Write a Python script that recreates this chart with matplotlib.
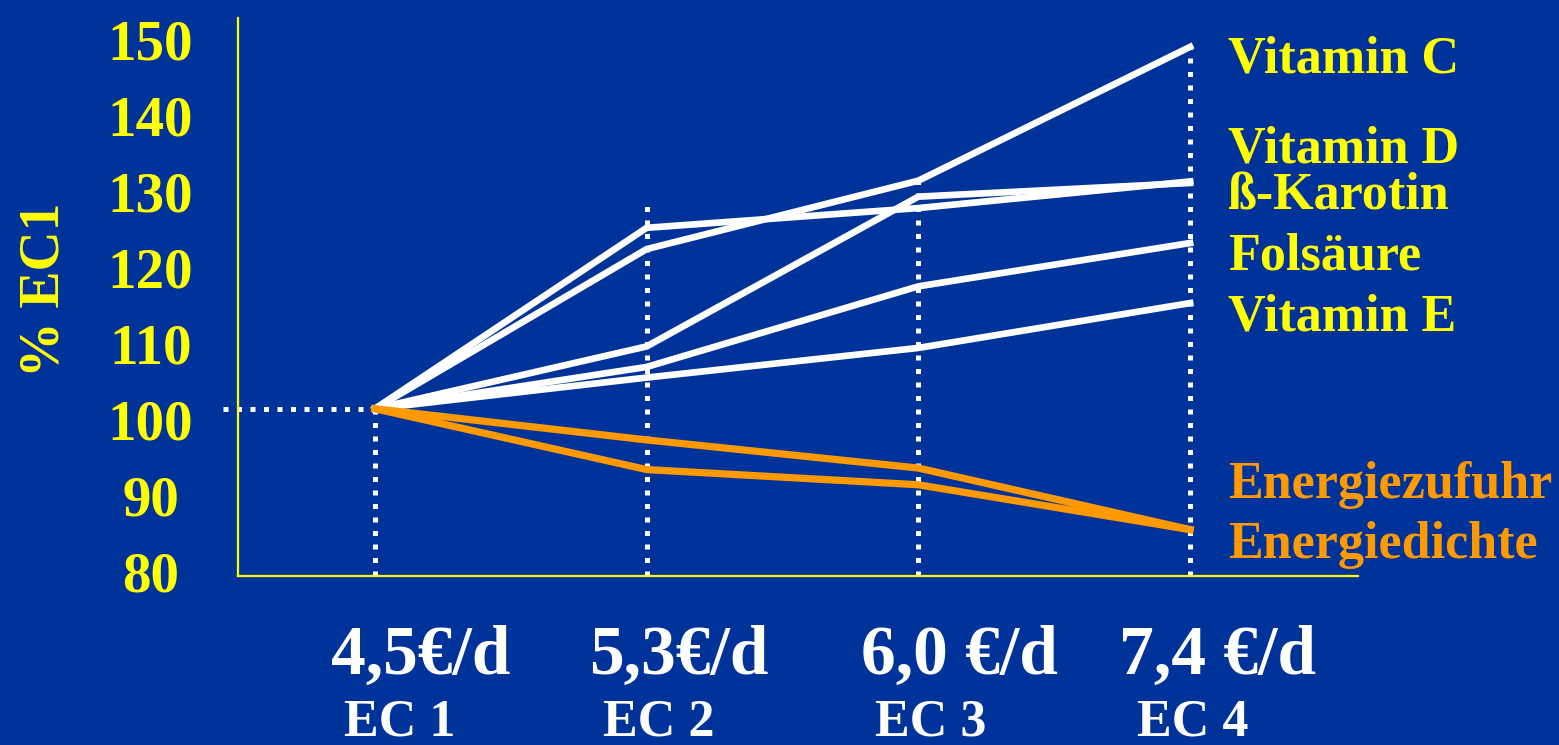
import numpy as np
import matplotlib
matplotlib.use("Agg")
import matplotlib.pyplot as plt
import matplotlib.transforms as mtransforms

# Data (% of EC1)
stages = ["EC 1", "EC 2", "EC 3", "EC 4"]
costs = ["4,5€/d", "5,3€/d", "6,0 €/d", "7,4 €/d"]

vitamin_c = [100, 121.0, 130.0, 147.6]
vitamin_d = [100, 123.8, 126.4, 129.9]
karotin = [100, 108.2, 127.9, 129.7]
folsaeure = [100, 105.5, 116.1, 121.8]
vitamin_e = [100, 104.1, 108.0, 113.9]
energiezufuhr = [100, 95.9, 92.2, 84.1]
energiedichte = [100, 92.0, 90.0, 84.1]

vit_names = ["Vitamin C", "Vitamin D", "ß-Karotin", "Folsäure", "Vitamin E"]
energy_names = ["Energiezufuhr", "Energiedichte"]
yticks = [80, 90, 100, 110, 120, 130, 140, 150]

# Layout: label heights (data units) for the names at the right,
# horizontal nudges for the labels under the axis
vit_label_y = [145.9, 134.1, 127.9, 120.0, 112.0]
energy_label_y = [90.0, 82.1]
cost_dx = [0.17, 0.12, 0.15, 0.10]
stage_dx = [0.09, 0.045, 0.045, 0.01]

BG = "#003399"
YELLOW = "#FFFF00"
ORANGE = "#FF9900"
SERIF = ["Liberation Serif", "DejaVu Serif"]

fig = plt.figure(figsize=(15.59, 7.45), dpi=100, facecolor=BG)
ax = fig.add_axes([238 / 1559, 1 - 576 / 745, (1358 - 238) / 1559, (576 - 18) / 745])
ax.set_facecolor(BG)

x = np.arange(len(stages))
ax.set_xlim(-0.504, 3.618)
ax.set_ylim(78.0, 151.4)

vit_series = [vitamin_c, vitamin_d, karotin, folsaeure, vitamin_e]
en_series = [energiezufuhr, energiedichte]

# dotted guides
tops = np.max(np.array(vit_series + en_series), axis=0)
dots = dict(color="white", lw=3.6, linestyle=(0, (1.0, 1.7)), dash_capstyle="butt", zorder=1)
for xi, top in zip(x, tops):
    extra = 3 if 0 < xi < 2 else 0.3
    ax.plot([xi, xi], [ax.get_ylim()[0], top + extra], **dots)
ax.plot([-0.56, 0], [100, 100], clip_on=False, **dots)

for s in vit_series:
    ax.plot(x, s, color="white", lw=4.8, solid_joinstyle="miter", zorder=3)
for s in en_series:
    ax.plot(x, s, color=ORANGE, lw=5.2, solid_joinstyle="miter", zorder=3)

lx = 3.14
for name, ly in zip(vit_names, vit_label_y):
    ax.text(lx, ly, name, color=YELLOW, fontsize=37.5, fontweight="bold",
            family=SERIF, va="center", ha="left", clip_on=False)
for name, ly in zip(energy_names, energy_label_y):
    ax.text(lx, ly, name, color=ORANGE, fontsize=37.5, fontweight="bold",
            family=SERIF, va="center", ha="left", clip_on=False)

# axes styling
for side in ["top", "right"]:
    ax.spines[side].set_visible(False)
for side in ["left", "bottom"]:
    ax.spines[side].set_color(YELLOW)
    ax.spines[side].set_linewidth(1.6)
ax.set_xticks([])
ax.set_yticks(yticks)
ax.set_yticklabels([str(t) for t in yticks])
ax.tick_params(axis="y", length=0, pad=63, labelcolor=YELLOW)
offset = mtransforms.ScaledTranslation(0, -0.11, fig.dpi_scale_trans)
for lab in ax.get_yticklabels():
    lab.set_fontsize(41)
    lab.set_fontweight("bold")
    lab.set_family(SERIF)
    lab.set_horizontalalignment("center")
    lab.set_transform(lab.get_transform() + offset)

fig.text(45 / 1559, 1 - 290 / 745, "% EC1", rotation=90, color=YELLOW,
         fontsize=40, fontweight="bold", family=SERIF, ha="center", va="center")

# cost and stage labels under the axis
trans = mtransforms.blended_transform_factory(ax.transData, fig.transFigure)
for xi, c, st, dc, ds in zip(x, costs, stages, cost_dx, stage_dx):
    ax.text(xi + dc, 1 - 657 / 745, c, transform=trans, color="white",
            fontsize=50, fontweight="bold", family=SERIF, ha="center", va="center")
    ax.text(xi + ds, 1 - 722 / 745, st, transform=trans, color="white",
            fontsize=37.5, fontweight="bold", family=SERIF, ha="center", va="center")

fig.savefig("out.png", dpi=100, facecolor=BG)
